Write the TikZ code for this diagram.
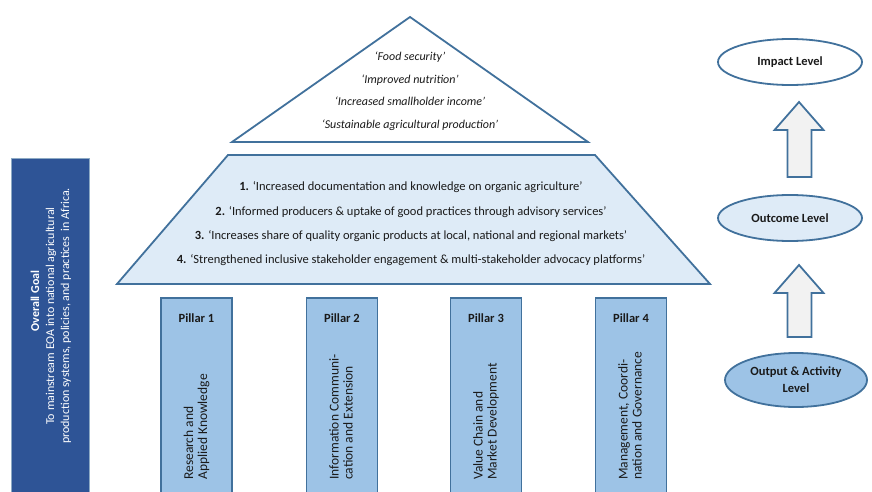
\documentclass[tikz,border=0pt]{standalone}
\usepackage{fontspec}
\setmainfont{Carlito}
\usetikzlibrary{shapes.geometric,calc}
\definecolor{edgeblue}{HTML}{41719C}
\definecolor{goalblue}{HTML}{2E5496}
\definecolor{pillarblue}{HTML}{9DC3E6}
\definecolor{paleblue}{HTML}{DEEBF7}
\definecolor{arrowgray}{HTML}{F2F2F2}
\definecolor{ink}{HTML}{1A1A1A}
\begin{document}
\begin{tikzpicture}[x=1pt,y=-1pt,
  outline/.style={draw=edgeblue, line width=1.8pt, line join=miter},
  pillarbox/.style={outline, fill=pillarblue, minimum width=71pt, minimum height=205pt, inner sep=0pt, anchor=north},
  pillartitle/.style={font=\fontsize{12.5}{15}\selectfont\bfseries, text=ink},
  pillartext/.style={rotate=90, anchor=west, align=left, font=\fontsize{13.5}{14}\selectfont, text=ink, inner sep=0pt},
  level/.style={ellipse, outline, inner sep=0pt, align=center, font=\fontsize{12.5}{17}\selectfont\bfseries, text=ink},
  blockarrow/.style={draw=edgeblue, line width=1.8pt, fill=arrowgray, line join=miter}
]
\useasboundingbox (0,0) rectangle (872,492);

% Overall goal
\node[draw=edgeblue!60, line width=0.8pt, fill=goalblue, minimum width=78pt, minimum height=340pt, anchor=north west, inner sep=0pt] (goal) at (11,158) {};
\node[rotate=90, align=center, text=white, font=\fontsize{12}{15}\selectfont, inner sep=0pt] (goaltext) at (51,316)
  {\hspace*{30pt}\textbf{Overall Goal}\\To mainstream EOA into national agricultural\\production systems, policies, and practices~ in Africa.};

% Triangle (impact)
\coordinate (apex) at (410,17);
\coordinate (tl) at (232,142);
\coordinate (tr) at (588,142);
\draw[outline, fill=white] (apex) -- (tr) -- (tl) -- cycle;
\node[align=center, font=\fontsize{12}{22.5}\selectfont\itshape, text=ink, inner sep=0pt] (imptext) at (410,91)
  {`Food security'\\`Improved nutrition'\\`Increased smallholder income'\\`Sustainable agricultural production'};

% Trapezoid (outcomes)
\coordinate (ztl) at (228,155);
\coordinate (ztr) at (595,155);
\coordinate (zbr) at (710,284);
\coordinate (zbl) at (117,284);
\draw[outline, fill=paleblue] (ztl) -- (ztr) -- (zbr) -- (zbl) -- cycle;
\node[align=center, font=\fontsize{12.5}{24.3}\selectfont, text=ink, inner sep=0pt] (outtext) at (411,224)
  {\textbf{1.} `Increased documentation and knowledge on organic agriculture'\\
   \textbf{2.} `Informed producers \& uptake of good practices through advisory services'\\
   \textbf{3.} `Increases share of quality organic products at local, national and regional markets'\\
   \textbf{4.} `Strengthened inclusive stakeholder engagement \& multi-stakeholder advocacy platforms'};

% Pillars
\node[pillarbox] (p1) at (196.5,297) {};
\node[pillarbox] (p2) at (342,297) {};
\node[pillarbox] (p3) at (486,297) {};
\node[pillarbox] (p4) at (631,297) {};
\node[pillartitle] (p1t) at (196.5,318) {Pillar 1};
\node[pillartitle] (p2t) at (342,318) {Pillar 2};
\node[pillartitle] (p3t) at (486,318) {Pillar 3};
\node[pillartitle] (p4t) at (631,318) {Pillar 4};
\node[pillartext] (p1x) at (196.5,480) {Research and\\Applied Knowledge};
\node[pillartext] (p2x) at (341,480) {Information Communi-\\cation and Extension};
\node[pillartext] (p3x) at (486,480) {Value Chain and\\Market Development};
\node[pillartext] (p4x) at (630,480) {Management, Coordi-\\nation and Governance};

% Levels
\node[level, fill=white, minimum width=144pt, minimum height=46pt] (impact) at (790,62) {Impact Level};
\node[level, fill=paleblue, minimum width=144pt, minimum height=46pt] (outcome) at (790,218) {Outcome Level};
\node[level, fill=pillarblue, minimum width=142pt, minimum height=54pt] (output) at (796,380) {Output \& Activity\\Level};

% Block arrows
\coordinate (a1tip) at (799,102);
\coordinate (a1end) at (799,177);
\coordinate (a2tip) at (799,265);
\coordinate (a2end) at (799,337);
\draw[blockarrow] (a1tip) -- ++(24.5,28) -- ++(-12,0) |- ($(a1end)+(-11.5,0)$) -- ++(0,-47) -- ++(-13,0) -- cycle;
\draw[blockarrow] (a2tip) -- ++(24.5,28) -- ++(-12,0) |- ($(a2end)+(-11.5,0)$) -- ++(0,-44) -- ++(-13,0) -- cycle;
\end{tikzpicture}
\end{document}
